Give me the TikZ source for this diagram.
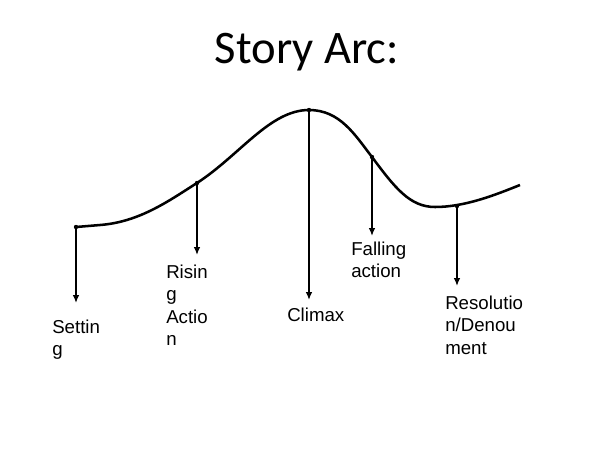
\documentclass[tikz,border=0pt]{standalone}
\usepackage{fontspec}
\setmainfont{Liberation Sans}
\newfontfamily\labelfont{Liberation Sans}
\newfontfamily\titlefont{Carlito}
\usetikzlibrary{arrows.meta}
\begin{document}
\begin{tikzpicture}[x=0.75pt,y=-0.75pt,
  curve/.style={line width=1.9pt},
  pointer/.style={line width=1.1pt,-{Latex[length=6pt,width=5pt]}},
  lbl/.style={anchor=north west,align=left,inner sep=0pt,font=\labelfont\fontsize{14}{16.6}\selectfont}]
\useasboundingbox (0,0) rectangle (600,450);
\node[font=\titlefont\fontsize{35}{40}\selectfont] (title) at (307,52) {Story Arc:};
\coordinate (s) at (76,227);
\coordinate (r) at (197,183);
\coordinate (c) at (309,110);
\coordinate (f) at (372,157);
\coordinate (d) at (457,206);
\draw[curve] (s) -- (100,225) .. controls (140,222) and (170,200) .. (r)
  .. controls (240,155) and (270,110) .. (c)
  .. controls (340,110) and (355,135) .. (f)
  .. controls (395,188) and (410,207) .. (435,207)
  .. controls (465,207) and (495,195) .. (520,185);
\coordinate (se) at (76,303);
\coordinate (re) at (197,255);
\coordinate (ce) at (309,300);
\coordinate (fe) at (372,236);
\coordinate (de) at (457,286);
\foreach \a/\b in {s/se,r/re,c/ce,f/fe,d/de}{
  \fill (\a) circle (2.2);
  \draw[pointer] (\a) -- (\b);
}
\node[lbl] (ls) at (52,320) {Settin\\g};
\node[lbl] (lr) at (166,265) {Risin\\g\\Actio\\n};
\node[lbl] (lc) at (287,308) {Climax};
\node[lbl] (lf) at (351,242) {Falling\\action};
\node[lbl] (ld) at (445,296) {Resolutio\\n/Denou\\ment};
\end{tikzpicture}
\end{document}
